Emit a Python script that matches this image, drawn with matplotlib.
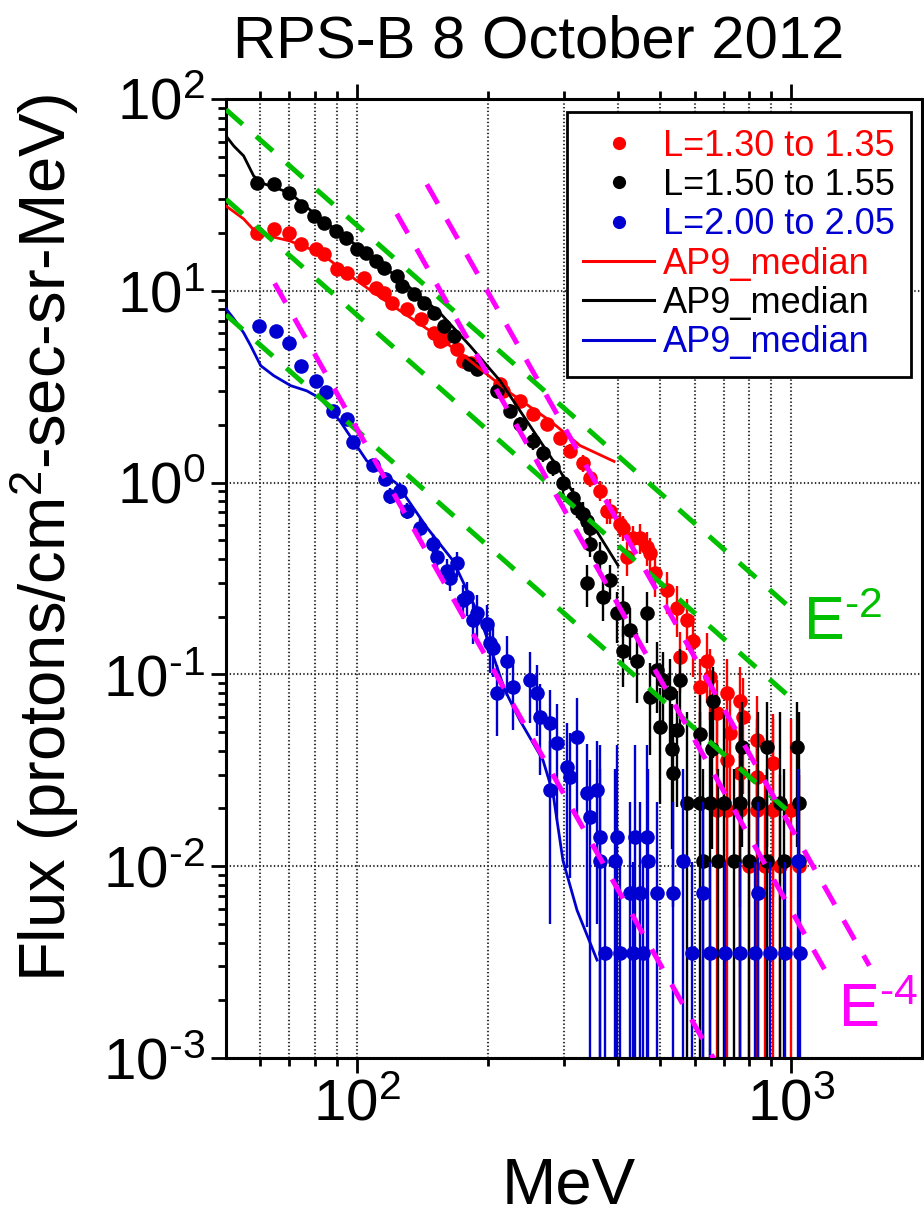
import numpy as np
import matplotlib
matplotlib.use('Agg')
import matplotlib.pyplot as plt
from matplotlib.lines import Line2D
from matplotlib.ticker import FixedLocator, FixedFormatter, NullFormatter

plt.rcParams['font.family'] = ['Liberation Sans', 'DejaVu Sans']
plt.rcParams['mathtext.default'] = 'regular'
plt.rcParams['lines.scale_dashes'] = False
NARROW = ['Liberation Sans Narrow', 'Liberation Sans', 'DejaVu Sans']
REGULAR = ['Liberation Sans', 'DejaVu Sans']
HY = '\u2010'  # short hyphen used in the exponents

# ---------------- data ----------------
red_E = [58.8, 64.4, 69.7, 74.3, 80.4, 83.9, 89.9, 94.8, 103.8, 110.6, 115.4, 120.4, 130.3, 140.4,
         150.5, 155.3, 158.7, 170, 175.5, 183.1, 213.6, 217, 237.4, 254.5, 274.1, 293.6, 309.6,
         331.7, 344.3, 363.1, 376.7, 382.8, 403.6, 410, 419, 432.4, 449, 465.8, 473, 486, 518,
         546, 555, 576, 595, 617, 641, 651, 675, 712, 712, 724, 763, 763, 775, 835, 835, 909,
         675, 712, 763, 835, 909, 1000, 800, 870, 940, 1040]
red_F = [20.0, 21.0, 20.0, 17.6, 16.5, 15.6, 13.0, 12.4, 11.7, 10.4, 9.77, 8.66, 8.06, 7.15,
         6.04, 5.49, 5.62, 4.99, 4.32, 4.22, 3.28, 3.01, 2.67, 2.29, 2.03, 1.71, 1.47,
         1.26, 1.06, 0.908, 0.715, 0.715, 0.611, 0.583, 0.407, 0.517, 0.517, 0.459, 0.427, 0.336, 0.274,
         0.223, 0.123, 0.191, 0.150, 0.0855, 0.118, 0.0965, 0.0626, 0.080, 0.0357, 0.0493, 0.073, 0.0305,
         0.0597, 0.0453, 0.0291, 0.0344,
         0.0196, 0.0196, 0.0196, 0.0196, 0.0196, 0.0196, 0.0100, 0.0100, 0.0100, 0.0100]
red_err = [.03, .03, .03, .03, .03, .03, .03, .03, .03, .03, .03, .03, .04, .04,
           .04, .04, .04, .05, .05, .05, .06, .06, .06, .07, .07, .08, .08,
           .1, .1, .12, .15, .15, .15, .15, .2, .15, .18, .2, .2, .25, .25,
           .3, .35, .3, .35, .4, .4, .4, .5, .5, .7, .6, .5, .8, .6, .7, .8, .8,
           2, 2, 2, 2, 2, 2, 2, 2, 2, 2]

black_E = [58.8, 64.4, 69.7, 74.3, 79.6, 83.9, 89.5, 94.3, 100, 104.9, 110.6, 115.4, 123.6, 127.0,
           135.3, 142.7, 150.5, 158.7, 167.3, 181.2, 189.0, 210, 225, 237, 254, 268, 283, 298,
           315, 321, 332, 339, 344, 344, 363, 339, 383, 369, 410, 397, 466, 426, 410, 442, 491,
           507, 473, 526, 555, 499, 546, 535, 532, 661, 617, 658, 771, 880, 1032,
           576, 617, 651, 700, 763, 840, 943, 1040,
           627, 680, 740, 800, 880, 960, 1040]
black_F = [36.5, 36.1, 32.4, 27.7, 24.6, 22.6, 20.5, 18.9, 16.5, 15.8, 14.3, 13.2, 12.0, 10.6,
           9.65, 8.66, 7.68, 6.57, 5.83, 4.17, 3.92, 3.01, 2.37, 2.03, 1.65, 1.42, 1.20, 0.99,
           0.835, 0.741, 0.69, 0.634, 0.583, 0.481, 0.407, 0.298, 0.309, 0.252, 0.223, 0.208, 0.208,
           0.170, 0.133, 0.118, 0.105, 0.093, 0.076, 0.080, 0.093, 0.053, 0.051, 0.0305, 0.041,
           0.073, 0.049, 0.041, 0.042, 0.042, 0.042,
           0.0213, 0.0213, 0.0213, 0.0213, 0.0213, 0.0213, 0.0213, 0.0213,
           0.0107, 0.0107, 0.0107, 0.0107, 0.0107, 0.0107, 0.0107]
black_err = [.03, .03, .03, .03, .03, .03, .03, .03, .03, .03, .04, .04, .04, .04,
             .04, .05, .05, .05, .05, .06, .06, .07, .08, .08, .1, .1, .1, .12,
             .12, .12, .15, .15, .15, .15, .2, .25, .2, .25, .3, .3, .3,
             .3, .35, .4, .4, .4, .5, .5, .45, .6, .6, .8, .7,
             .5, .6, .7, .7, .7, .7,
             2, 2, 2, 2, 2, 2, 2, 2,
             2, 2, 2, 2, 2, 2, 2]

blue_E = [59.4, 65.1, 69.7, 74.3, 80.4, 84.8, 88.0, 94.8, 97.9, 108.9, 116, 119, 125.6, 130.3,
          139.7, 149.7, 152.9, 161.2, 163.8, 170, 175.5, 179.3, 185.1, 189, 199.3, 202.5, 205.8,
          210.2, 221.6, 228.8, 250.4, 259.9, 264.1, 278.5, 278.5, 288.9, 304.7, 309.6, 321.3,
          338.8, 344.3, 357.3,
          363.1, 397.2, 437.1, 465.8, 363.1, 393.1, 468.3, 564, 1038,
          425.6, 448.9, 491.2, 534.7, 627.1, 839.5,
          372.9, 403.6, 432.4, 456, 591.6, 651, 704, 763, 826, 894, 969, 1049]
blue_F = [6.57, 6.19, 5.36, 4.07, 3.40, 2.98, 2.37, 2.15, 1.62, 1.23, 1.05, 0.856, 0.908, 0.715,
          0.583, 0.481, 0.407, 0.348, 0.32, 0.379, 0.243, 0.252, 0.191, 0.208, 0.184, 0.145, 0.138,
          0.080, 0.118, 0.0855, 0.093, 0.080, 0.0597, 0.0555, 0.0249, 0.0437, 0.0328, 0.0291, 0.047,
          0.024, 0.018, 0.0249,
          0.0142, 0.0142, 0.0142, 0.0142, 0.0107, 0.0107, 0.0107, 0.0107, 0.0107,
          0.00723, 0.00723, 0.00723, 0.00723, 0.00723, 0.00723,
          0.00352, 0.00352, 0.00352, 0.00352, 0.00352, 0.00352, 0.00352, 0.00352, 0.00352,
          0.00352, 0.00352, 0.00352]
blue_err = [.04, .04, .04, .05, .05, .05, .06, .06, .07, .08, .08, .1, .1, .1,
            .12, .12, .15, .15, .15, .15, .2, .2, .25, .25, .25, .3, .3,
            .4, .35, .4, .4, .4, .5, .5, .8, .6, .7, .7, .6,
            .8, 1, .8,
            2, 2, 2, 2, 2, 2, 2, 2, 2,
            2, 2, 2, 2, 2, 2,
            2, 2, 2, 2, 2, 2, 2, 2, 2, 2, 2, 2]

# AP9 median model curves
ap9_red_E = [50, 54.9, 58.8, 70.1, 82.2, 100, 119.1, 147.3, 182.2, 225.2, 278.5, 326.5, 391]
ap9_red_F = [27.7, 23.7, 20.0, 18.2, 15.8, 11.3, 8.55, 6.19, 4.32, 2.94, 2.10, 1.56, 1.29]
ap9_black_E = [50, 52.1, 54.9, 57.9, 60.4, 70.1, 80, 100, 125.6, 155.3, 182.2, 213.6, 250.4,
               293.6, 344.3, 399.3]
ap9_black_F = [64.2, 56.9, 50.5, 39.7, 36.5, 32.4, 25.2, 17.2, 11.5, 7.68, 5.17, 3.40, 1.98,
               1.15, 0.634, 0.370]
ap9_blue_E = [50, 52.1, 54.9, 57.0, 60.1, 64.4, 70.5, 76.7, 82.6, 91.4, 105.4, 123.6, 145, 166.4,
              192.1, 205.8, 219.3, 237.4, 268.3, 282.9, 298.3, 321.3, 357.3]
ap9_blue_F = [8.06, 7.15, 6.04, 5.17, 4.07, 3.61, 3.20, 3.01, 2.74, 2.10, 1.30, 0.988, 0.583, 0.393,
              0.198, 0.126, 0.0826, 0.0576, 0.0357, 0.024, 0.0107, 0.0059, 0.00324]

# Power-law guide lines: E^-2 (value at 50 MeV, drawn 50-990 MeV)
e2_amp_at50 = [88.0, 30.0, 7.5]
e2_range = [50, 990]
# E^-4: (pivot energy, flux at pivot, start energy, end energy)
e4_pivot_E = [393, 377, 157.8]
e4_pivot_F = [0.665, 0.291, 0.309]
e4_start = [145, 123.6, 64.7]
e4_end = [1513, 1210, 720]

series_labels = ['L=1.30 to 1.35', 'L=1.50 to 1.55', 'L=2.00 to 2.05']
model_labels = ['AP9_median', 'AP9_median', 'AP9_median']
x_major = [100, 1000]
x_major_labels = ['$10^{2}$', '$10^{3}$']
y_major = [1e-3, 1e-2, 1e-1, 1e0, 1e1, 1e2]
y_major_labels = ['$10^{' + HY + '3}$', '$10^{' + HY + '2}$', '$10^{' + HY + '1}$',
                  '$10^{0}$', '$10^{1}$', '$10^{2}$']

RED, BLACK, BLUE = '#ff0000', '#000000', '#0000d0'
GREEN, MAGENTA = '#00c000', '#ff00ff'

# ---------------- figure ----------------
fig = plt.figure(figsize=(9.24, 12.18), dpi=100)
ax = fig.add_axes([226 / 924, 1 - 1058 / 1218, 696 / 924, 959 / 1218])
ax.set_xscale('log')
ax.set_yscale('log')
ax.set_xlim(50, 2000)
ax.set_ylim(1e-3, 1e2)


def draw_series(E, F, err, color, z):
    E = np.asarray(E, float)
    F = np.asarray(F, float)
    err = np.asarray(err, float)
    ax.errorbar(E, F, yerr=[F * err, F * err], fmt='o', color=color, ms=10.5, mew=0,
                elinewidth=1.7, capsize=0, zorder=z)


draw_series(red_E, red_F, red_err, RED, 2)
draw_series(black_E, black_F, black_err, BLACK, 2.1)
draw_series(blue_E, blue_F, blue_err, BLUE, 2.2)

ax.plot(ap9_red_E, ap9_red_F, color=RED, lw=2.0, zorder=3)
ax.plot(ap9_black_E, ap9_black_F, color=BLACK, lw=2.0, zorder=3)
ax.plot(ap9_blue_E, ap9_blue_F, color=BLUE, lw=2.0, zorder=3)

for a in e2_amp_at50:
    xs = np.array(e2_range, float)
    ax.plot(xs, a * (xs / 50.0) ** -2, color=GREEN, lw=3.6, dashes=(16, 13), zorder=4)
for pe, pf, s, e in zip(e4_pivot_E, e4_pivot_F, e4_start, e4_end):
    xs = np.array([s, e], float)
    ax.plot(xs, pf * (xs / pe) ** -4, color=MAGENTA, lw=3.6, dashes=(16, 13), zorder=4)

ax.text(1065, 0.152, 'E$^{' + HY + '2}$', color=GREEN, fontsize=44, family=NARROW,
        ha='left', va='baseline', zorder=5)
ax.text(1283, 0.00145, 'E$^{' + HY + '4}$', color=MAGENTA, fontsize=44, family=NARROW,
        ha='left', va='baseline', zorder=5)

# ticks
ax.xaxis.set_major_locator(FixedLocator(x_major))
ax.xaxis.set_major_formatter(FixedFormatter(x_major_labels))
ax.xaxis.set_minor_locator(FixedLocator([60, 70, 80, 90, 200, 300, 400, 500, 600, 700, 800, 900]))
ax.xaxis.set_minor_formatter(NullFormatter())
ax.yaxis.set_major_locator(FixedLocator(y_major))
ax.yaxis.set_major_formatter(FixedFormatter(y_major_labels))
ymin = []
for d in range(-3, 2):
    for m in range(2, 10):
        ymin.append(m * 10.0 ** d)
ax.yaxis.set_minor_locator(FixedLocator(ymin))
ax.yaxis.set_minor_formatter(NullFormatter())

ax.tick_params(which='both', direction='out', top=True, right=True, width=2.0, colors='black')
ax.tick_params(which='major', length=11, labelsize=42, pad=4, labelfontfamily=NARROW)
ax.tick_params(which='minor', length=6)
for sp in ax.spines.values():
    sp.set_linewidth(2.2)

ax.grid(True, which='major', axis='both', ls=':', color='0.2', lw=1.5, zorder=0)
ax.grid(True, which='minor', axis='x', ls=':', color='0.2', lw=1.5, zorder=0)
ax.set_axisbelow(True)

# legend
handles = [Line2D([], [], marker='o', ls='none', color=RED, ms=9.5, mew=0),
           Line2D([], [], marker='o', ls='none', color=BLACK, ms=9.5, mew=0),
           Line2D([], [], marker='o', ls='none', color=BLUE, ms=9.5, mew=0),
           Line2D([], [], color=RED, lw=2.2),
           Line2D([], [], color=BLACK, lw=2.2),
           Line2D([], [], color=BLUE, lw=2.2)]
labels = series_labels + model_labels
leg = ax.legend(handles, labels, loc='upper right', bbox_to_anchor=(0.984, 0.986),
                borderaxespad=0, prop={'family': REGULAR, 'size': 26}, frameon=True,
                fancybox=False, handlelength=1.95, handletextpad=0.25, labelspacing=0.12,
                borderpad=0.45, labelcolor=[RED, BLACK, BLUE, RED, BLACK, BLUE])
leg.get_frame().set_edgecolor('black')
leg.get_frame().set_linewidth(2.0)
leg.get_frame().set_alpha(1)
leg.set_zorder(6)

fig.text(0.583, 1 - 57 / 1218, 'RPS-B 8 October 2012', fontsize=43, ha='center', va='baseline')
fig.text(0.615, 1 - 1204 / 1218, 'MeV', fontsize=47, ha='center', va='baseline')
fig.text(45 / 924, 1 - 538 / 1218, 'Flux (protons/cm$^{2}$-sec-sr-MeV)', fontsize=47,
         rotation=90, ha='center', va='center')

fig.savefig('out.png', dpi=100)
